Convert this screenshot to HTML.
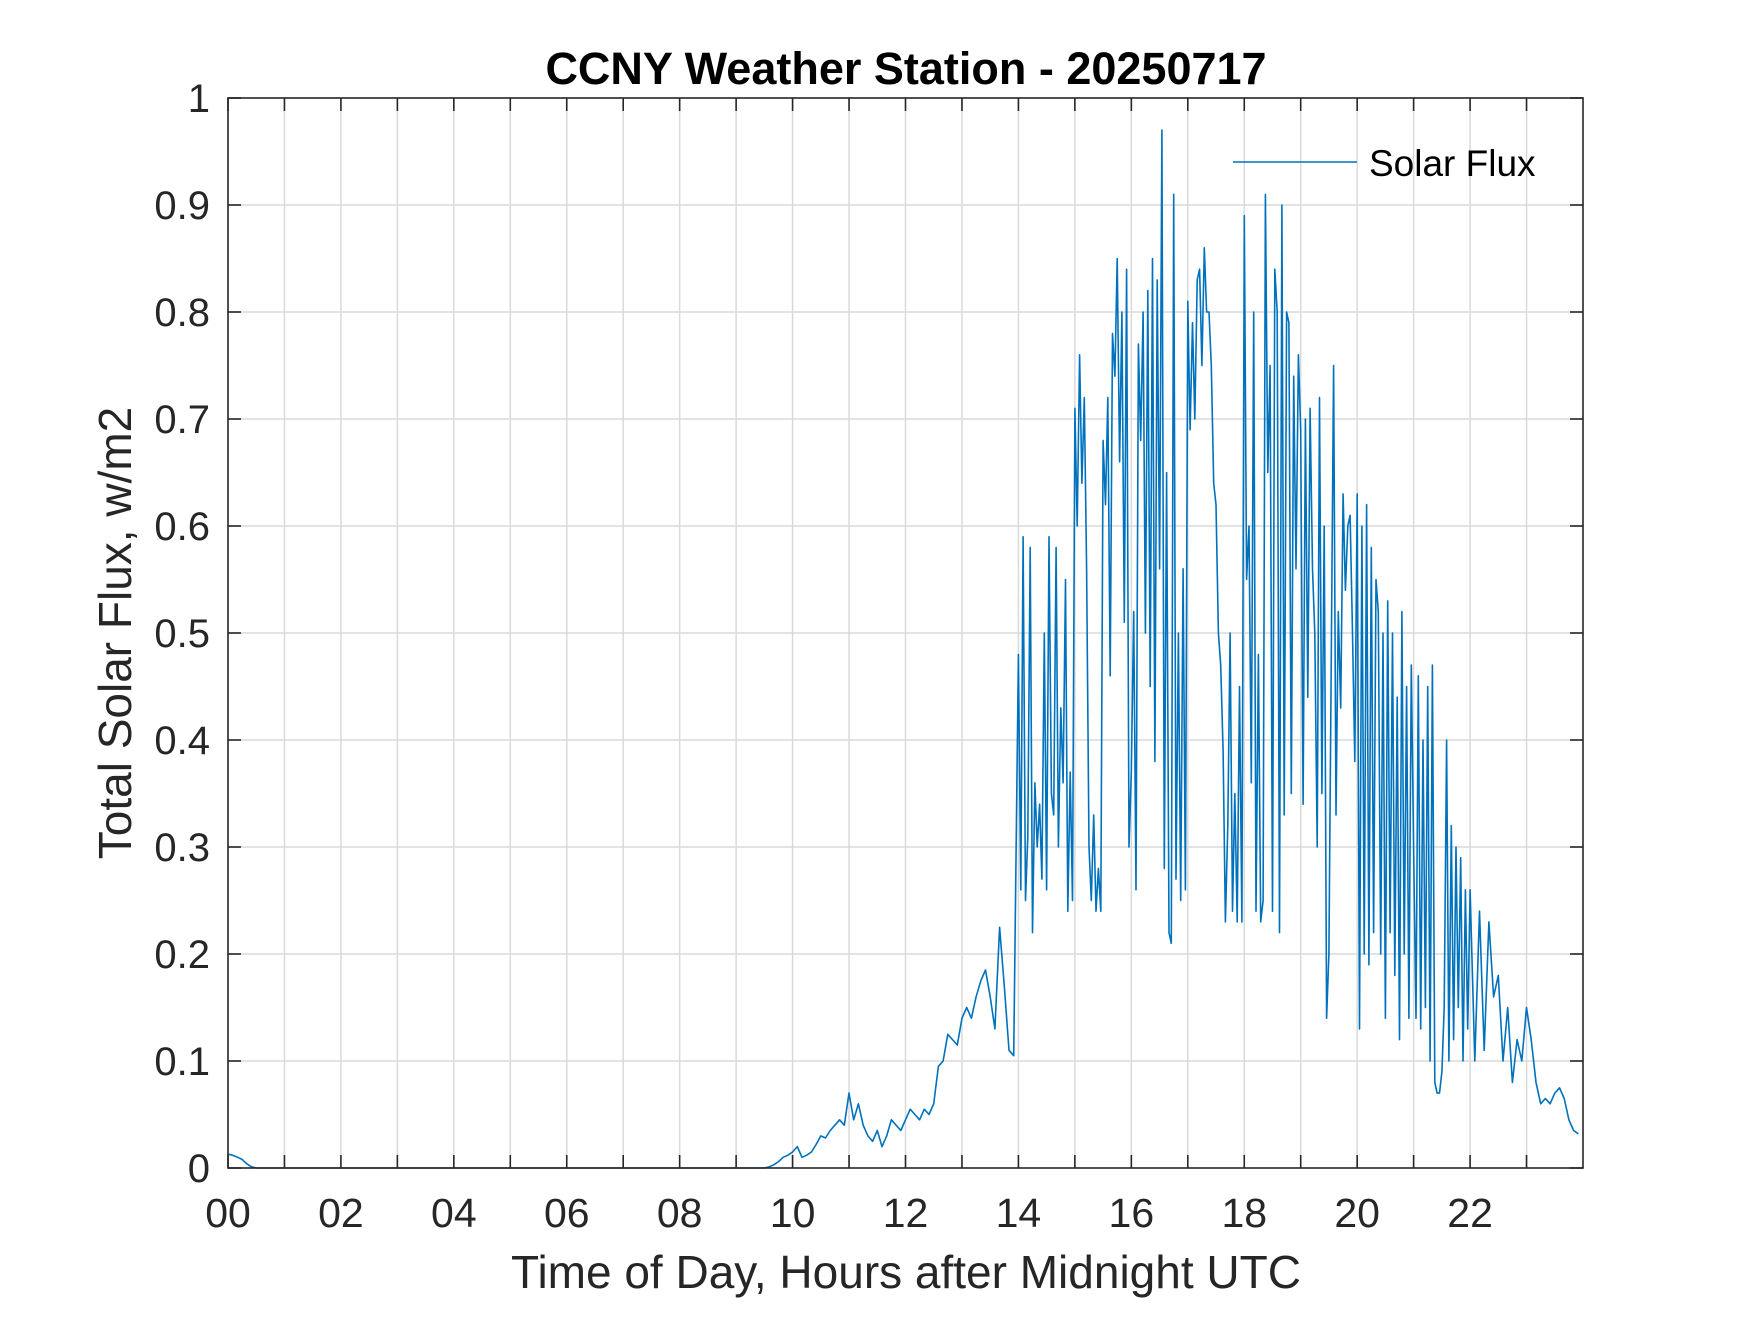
<!DOCTYPE html>
<html><head><meta charset="utf-8">
<style>
html,body{margin:0;padding:0;background:#fff;}
svg text{font-family:"Liberation Sans",Arial,sans-serif;fill:#262626;}
</style></head>
<body>
<svg id="chart" width="1750" height="1313" viewBox="0 0 1750 1313" xmlns="http://www.w3.org/2000/svg">
<rect x="0" y="0" width="1750" height="1313" fill="#fff"/>
<g id="grid"></g>
<g id="ticks"></g>
<g id="labels"></g>
<path id="series" fill="none" stroke="#0072BD" stroke-width="1.6" stroke-linejoin="round"/>
<rect x="228" y="98" width="1355" height="1070" fill="none" stroke="#262626" stroke-width="1.6"/>
<text x="906" y="84" text-anchor="middle" font-size="45" font-weight="bold" style="fill:#000">CCNY Weather Station - 20250717</text>
<text x="906" y="1288" text-anchor="middle" font-size="46">Time of Day, Hours after Midnight UTC</text>
<text transform="translate(131,633) rotate(-90)" text-anchor="middle" font-size="46">Total Solar Flux, w/m2</text>
<g>
<line x1="1233" y1="162" x2="1357" y2="162" stroke="#0072BD" stroke-width="1.6"/>
<text x="1369" y="176" font-size="37" style="fill:#000">Solar Flux</text>
</g>
</svg>
<script>
const xTicks = [0,1,2,3,4,5,6,7,8,9,10,11,12,13,14,15,16,17,18,19,20,21,22,23];
const xTickLabels = ["00","","02","","04","","06","","08","","10","","12","","14","","16","","18","","20","","22",""];
const yTicks = [0,0.1,0.2,0.3,0.4,0.5,0.6,0.7,0.8,0.9,1];
const yTickLabels = ["0","0.1","0.2","0.3","0.4","0.5","0.6","0.7","0.8","0.9","1"];

const nightHours = [0,0.08,0.17,0.25,0.33,0.42,0.5,0.6,9.5];
const nightFlux = [0.013,0.012,0.01,0.008,0.004,0.001,0,0,0];
const morningStart = 9.5833;
const morningStep = 1/12;
const morningFlux = [0.001,0.003,0.006,0.01,0.012,
0.015,0.02,0.01,0.012,0.015,0.022,0.03,0.028,0.035,0.04,0.045,0.04,
0.07,0.045,0.06,0.04,0.03,0.025,0.035,0.02,0.03,0.045,0.04,0.035,
0.045,0.055,0.05,0.045,0.055,0.05,0.06,0.095,0.1,0.125,0.12,0.115,
0.14,0.15,0.14,0.16,0.175,0.185,0.16,0.13,0.225,0.17,0.11,0.105];
const dayStart = 14;
const dayStep = 1/24;
const dayFlux = [
0.48,0.26,0.59,0.25,0.31,0.58,0.22,0.36,0.3,0.34,0.27,0.5,0.26,0.59,0.35,0.33,0.58,0.3,0.43,0.36,0.55,0.24,0.37,0.25,
0.71,0.6,0.76,0.64,0.72,0.56,0.3,0.25,0.33,0.24,0.28,0.24,0.68,0.62,0.72,0.46,0.78,0.74,0.85,0.66,0.8,0.51,0.84,0.3,
0.37,0.52,0.26,0.77,0.68,0.8,0.5,0.82,0.45,0.85,0.38,0.83,0.56,0.97,0.28,0.65,0.22,0.21,0.91,0.27,0.5,0.25,0.56,0.26,
0.81,0.69,0.79,0.7,0.83,0.84,0.75,0.86,0.8,0.8,0.75,0.64,0.62,0.5,0.47,0.39,0.23,0.32,0.5,0.24,0.35,0.23,0.45,0.23,
0.89,0.55,0.6,0.36,0.8,0.24,0.48,0.23,0.25,0.91,0.65,0.75,0.24,0.84,0.8,0.22,0.9,0.33,0.8,0.79,0.35,0.74,0.56,0.76,
0.69,0.34,0.7,0.44,0.71,0.56,0.5,0.3,0.72,0.35,0.6,0.14,0.2,0.48,0.75,0.33,0.52,0.43,0.63,0.54,0.6,0.61,0.5,0.38,
0.63,0.13,0.6,0.2,0.62,0.19,0.58,0.22,0.55,0.52,0.2,0.5,0.14,0.53,0.22,0.5,0.18,0.44,0.12,0.52,0.2,0.45,0.14,0.47,
0.3,0.14,0.46,0.13,0.4,0.15,0.45,0.1,0.47,0.08,0.07,0.07,0.09,0.15,0.4,0.1,0.32,0.12,0.3,0.15,0.29,0.1,0.26,0.13];
const eveningStart = 22;
const eveningStep = 1/12;
const eveningFlux = [0.26,0.1,0.24,0.11,0.23,0.16,0.18,0.1,0.15,0.08,0.12,0.1,
0.15,0.12,0.08,0.06,0.065,0.06,0.07,0.075,0.065,0.045,0.035,0.032];

const L=228,R=1583,T=98,B=1168,XMAX=24;
function xs(h){return L+(R-L)*h/XMAX;}
function ys(v){return B-(B-T)*v;}
const NS="http://www.w3.org/2000/svg";
const grid=document.getElementById('grid'),ticks=document.getElementById('ticks'),labels=document.getElementById('labels');
function mk(tag,attrs,parent){const e=document.createElementNS(NS,tag);for(const k in attrs)e.setAttribute(k,attrs[k]);parent.appendChild(e);return e;}
xTicks.forEach((h,i)=>{
  const x=xs(h);
  if(h>0){const g=mk('line',{x1:x,y1:T,x2:x,y2:B,stroke:'#dadada','stroke-width':1.5},grid);
  
  }
  const t1=mk('line',{x1:x,y1:B,x2:x,y2:B-13,stroke:'#262626','stroke-width':1.6},ticks);
  
  
  const t2=mk('line',{x1:x,y1:T,x2:x,y2:T+13,stroke:'#262626','stroke-width':1.6},ticks);
  
  
  if(xTickLabels[i]){const tx=mk('text',{x:x,y:1227,'text-anchor':'middle','font-size':41},labels);tx.textContent=xTickLabels[i];
  
  }
});
yTicks.forEach((v,i)=>{
  const y=ys(v);
  if(v>0&&v<1){const g=mk('line',{x1:L,y1:y,x2:R,y2:y,stroke:'#dadada','stroke-width':1.5},grid);
  
  }
  const t1=mk('line',{x1:L,y1:y,x2:L+13,y2:y,stroke:'#262626','stroke-width':1.6},ticks);
  
  
  const t2=mk('line',{x1:R,y1:y,x2:R-13,y2:y,stroke:'#262626','stroke-width':1.6},ticks);
  
  
  const tx=mk('text',{x:210,y:y+14,'text-anchor':'end','font-size':40},labels);tx.textContent=yTickLabels[i];
  
  
});
const pts=[];
nightHours.forEach((h,i)=>pts.push([h,nightFlux[i]]));
morningFlux.forEach((v,i)=>pts.push([morningStart+i*morningStep,v]));
dayFlux.forEach((v,i)=>pts.push([dayStart+i*dayStep,v]));
eveningFlux.forEach((v,i)=>pts.push([Math.min(eveningStart+i*eveningStep,XMAX),v]));
document.getElementById('series').setAttribute('d',pts.map((p,i)=>(i?'L':'M')+xs(p[0]).toFixed(1)+','+ys(p[1]).toFixed(1)).join(''));
</script>
</body></html>
